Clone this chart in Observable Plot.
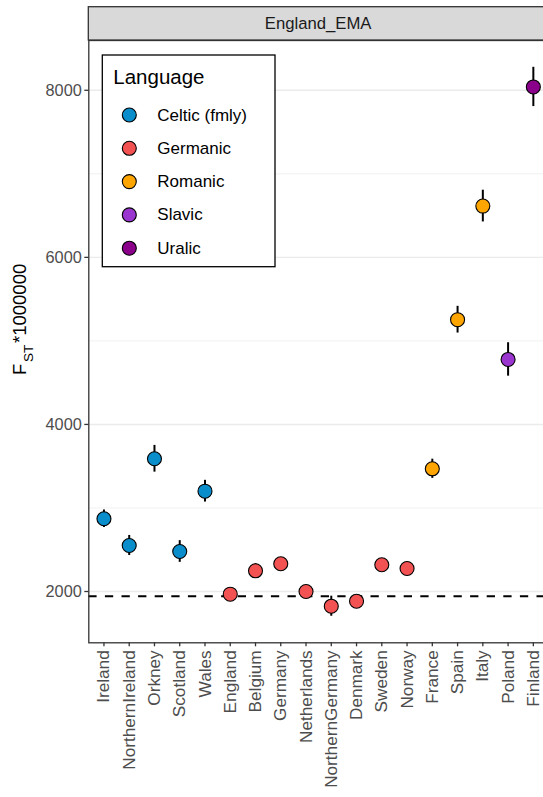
<!DOCTYPE html>
<html>
<head>
<meta charset="utf-8">
<script src="https://cdn.jsdelivr.net/npm/d3@7"></script>
<script src="https://cdn.jsdelivr.net/npm/@observablehq/plot@0.6"></script>
<style>
  html, body { margin: 0; padding: 0; background: #fff; overflow: hidden; }
  #chart { width: 543px; height: 797px; overflow: hidden; }
  #chart svg { display: block; max-width: none !important; width: 560px !important; height: 797px !important; }
</style>
</head>
<body>
<div id="chart"></div>
<script>
// ---- data ----
const populations = ["Ireland","NorthernIreland","Orkney","Scotland","Wales","England","Belgium","Germany","Netherlands","NorthernGermany","Denmark","Sweden","Norway","France","Spain","Italy","Poland","Finland"];
const languages   = ["Celtic (fmly)","Celtic (fmly)","Celtic (fmly)","Celtic (fmly)","Celtic (fmly)","Germanic","Germanic","Germanic","Germanic","Germanic","Germanic","Germanic","Germanic","Romanic","Romanic","Romanic","Slavic","Uralic"];
const fstValues   = [2871, 2551, 3589, 2479, 3201, 1968, 2248, 2332, 2000, 1824, 1884, 2320, 2275, 3469, 5254, 6614, 4778, 8040];
const fstErrors   = [105, 120, 160, 130, 130, 60, 85, 75, 70, 120, 70, 70, 70, 115, 160, 190, 200, 235];
const languageLevels = ["Celtic (fmly)","Germanic","Romanic","Slavic","Uralic"];
const languageColors = ["#0A8DCB","#F25252","#FFA500","#9B35D0","#8B008B"];
const referenceLine = 1944;
const majorTicks = [2000, 4000, 6000, 8000];
const minorTicks = [3000, 5000, 7000];
const panelTitle = "England_EMA";
const legendTitle = "Language";

const rows = populations.map((p, i) => ({
  pop: p, lang: languages[i], fst: fstValues[i],
  lo: fstValues[i] - fstErrors[i], hi: fstValues[i] + fstErrors[i]
}));

const W = 560, H = 797;
const mL = 88.3, mT = 40, mR = 12, mB = 154.7;
const font = "'Liberation Sans', Arial, Helvetica, sans-serif";

const plot = Plot.plot({
  width: W, height: H,
  marginLeft: mL, marginTop: mT, marginRight: mR, marginBottom: mB,
  style: { fontFamily: font, background: "white", overflow: "visible" },
  x: { type: "point", domain: populations, padding: 0.6, round: false },
  y: { domain: [1386, 8596] },
  color: { domain: languageLevels, range: languageColors },
  marks: [
    Plot.ruleY(minorTicks, { stroke: "#EEEEEE", strokeWidth: 0.8 }),
    Plot.ruleY(majorTicks, { stroke: "#EBEBEB", strokeWidth: 1.4 }),
    Plot.ruleY([referenceLine], { stroke: "#000", strokeWidth: 2, strokeDasharray: "8.3,8.3" }),
    Plot.ruleX(rows, { x: "pop", y1: "lo", y2: "hi", stroke: "#000", strokeWidth: 2 }),
    Plot.dot(rows, { x: "pop", y: "fst", fill: "lang", stroke: "#000", strokeWidth: 1.1, r: 7, fillOpacity: 1 }),
    Plot.frame({ stroke: "#333333", strokeWidth: 1.3 }),
    Plot.axisY({ ticks: majorTicks, tickSize: 4, tickPadding: 3, fontSize: 16.3, color: "#4D4D4D", stroke: "#333333", label: null, tickFormat: d => String(d) }),
    Plot.axisX({ tickSize: 4, tickPadding: 3.5, tickRotate: -90, fontSize: 17.2, color: "#4D4D4D", stroke: "#333333", label: null })
  ]
});

document.getElementById("chart").appendChild(plot);

const svg = d3.select(plot);
svg.selectAll("[aria-label='y-axis tick'], [aria-label='x-axis tick']").attr("stroke", "#333333").attr("stroke-width", 1.3);
svg.selectAll("[aria-label='y-axis tick label'], [aria-label='x-axis tick label']").attr("fill", "#4D4D4D");

// facet strip
const strip = svg.append("g");
strip.append("rect")
  .attr("x", mL).attr("y", 6.7).attr("width", W - mL - mR).attr("height", mT - 6.7)
  .attr("fill", "#D9D9D9").attr("stroke", "#333333").attr("stroke-width", 1.3);
strip.append("text")
  .attr("x", mL + (W - mL - mR) / 2).attr("y", 23.5)
  .attr("text-anchor", "middle").attr("dominant-baseline", "central")
  .attr("font-family", font).attr("font-size", 16.7).attr("fill", "#1A1A1A")
  .text(panelTitle);

// y-axis title F_ST*1000000
const yt = svg.append("g").attr("transform", "translate(26,375) rotate(-90)")
  .attr("font-family", font).attr("fill", "#000").attr("text-anchor", "start");
yt.append("text").attr("x", 0).attr("y", 0).attr("font-size", 18.5).attr("text-anchor", "start").text("F");
yt.append("text").attr("x", 13).attr("y", 7).attr("font-size", 13.5).attr("text-anchor", "start").text("ST");
yt.append("text").attr("x", 32).attr("y", 0).attr("font-size", 18.5).attr("text-anchor", "start").text("*1000000");

// legend
const lg = svg.append("g").attr("font-family", font).attr("text-anchor", "start");
lg.append("rect").attr("x", 102.3).attr("y", 55).attr("width", 172.7).attr("height", 211.7)
  .attr("fill", "#fff").attr("stroke", "#000").attr("stroke-width", 1.3);
lg.append("text").attr("x", 113.3).attr("y", 84).attr("font-size", 20.5).attr("fill", "#000")
  .attr("text-anchor", "start").text(legendTitle);
languageLevels.forEach((l, i) => {
  const cy = 115 + i * 33.3;
  lg.append("circle").attr("cx", 129.3).attr("cy", cy).attr("r", 7)
    .attr("fill", languageColors[i]).attr("stroke", "#000").attr("stroke-width", 1.1);
  lg.append("text").attr("x", 157.3).attr("y", cy).attr("dominant-baseline", "central")
    .attr("text-anchor", "start").attr("font-size", 17).attr("fill", "#000").text(l);
});
</script>
</body>
</html>
